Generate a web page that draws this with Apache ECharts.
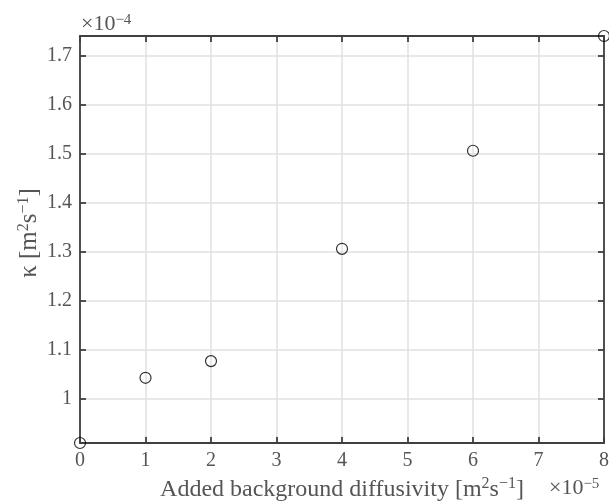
<!DOCTYPE html>
<html><head><meta charset="utf-8">
<script src="https://cdn.jsdelivr.net/npm/echarts@6/dist/echarts.min.js"></script>
<style>html,body{margin:0;padding:0;background:#fff}#c{width:609px;height:502px}</style>
</head><body><div id="c"></div>
<script>
// x in units of 1e-5, y in units of 1e-4
const xValues = [0, 1, 2, 4, 6, 8];
const yValues = [0.910, 1.043, 1.077, 1.306, 1.506, 1.740];
const xTicks = [0, 1, 2, 3, 4, 5, 6, 7, 8];
const yTicks = [1, 1.1, 1.2, 1.3, 1.4, 1.5, 1.6, 1.7];
const yMin = 0.910, yMax = 1.740;

const FONT = 'Liberation Serif';
const TXT = '#555555';
const AX = '#404040';
const FS = 20;

function richFor(size, supSize, raise) {
  return {
    n: {fontFamily: FONT, fontSize: size, color: TXT, fill: TXT, lineHeight: 2 * (raise + supSize / 2), verticalAlign: 'bottom'},
    s: {fontFamily: FONT, fontSize: supSize, color: TXT, fill: TXT, lineHeight: supSize, verticalAlign: 'top'}
  };
}
const nameRich = richFor(24, 16, 5);
const yNameRich = richFor(25, 16, 5);
const expRich = richFor(22, 15, 4);

const chart = echarts.init(document.getElementById('c'), null, {renderer: 'canvas'});
const axisCommon = {
  axisLine: {show: true, onZero: false, lineStyle: {color: AX, width: 1.8}},
  axisTick: {show: true, inside: true, length: 6, lineStyle: {color: AX, width: 1.8}},
};
chart.setOption({
  animation: false,
  grid: {left: 80, right: 5, top: 36, bottom: 59, containLabel: false, outerBoundsMode: 'none'},
  xAxis: [{
    type: 'value', min: 0, max: 8, interval: 1, position: 'bottom',
    ...axisCommon,
    axisLabel: {fontFamily: FONT, fontSize: FS, color: TXT, margin: 8,
      customValues: xTicks, formatter: v => String(v)},
    splitLine: {show: true, lineStyle: {color: '#e0e0e0', width: 1.5}},
    name: '{n|Added background diffusivity [m}{s|2}{n|s}{s|−1}{n|]}',
    nameLocation: 'middle', nameGap: 32,
    nameTextStyle: {rich: nameRich}
  }, {
    type: 'value', min: 0, max: 8, interval: 1, position: 'top',
    ...axisCommon,
    axisLabel: {show: false}, splitLine: {show: false}
  }],
  yAxis: [{
    type: 'value', min: yMin, max: yMax, position: 'left',
    ...axisCommon,
    axisTick: {...axisCommon.axisTick, customValues: yTicks},
    axisLabel: {fontFamily: FONT, fontSize: FS, color: TXT, margin: 8,
      customValues: yTicks, formatter: v => String(Math.round(v * 10) / 10)},
    splitLine: {show: true, lineStyle: {color: '#e0e0e0', width: 1.5}}
  }, {
    type: 'value', min: yMin, max: yMax, position: 'right',
    ...axisCommon,
    axisTick: {...axisCommon.axisTick, customValues: yTicks},
    axisLabel: {show: false, customValues: yTicks}, splitLine: {show: false}
  }],
  graphic: [
    {type: 'text', x: 29, y: 233, rotation: Math.PI / 2,
      style: {rich: yNameRich, text: '{n|κ [m}{s|2}{n|s}{s|−1}{n|]}', fill: TXT, align: 'center', verticalAlign: 'middle'}},
    {type: 'text', x: 81, y: 24,
      style: {rich: expRich, text: '{n|×10}{s|−4}', fill: TXT, align: 'left', verticalAlign: 'middle'}},
    {type: 'text', x: 549, y: 488,
      style: {rich: expRich, text: '{n|×10}{s|−5}', fill: TXT, align: 'left', verticalAlign: 'middle'}}
  ],
  series: [{
    type: 'scatter', xAxisIndex: 0, yAxisIndex: 0,
    data: xValues.map((x, i) => [x, yValues[i]]),
    symbol: 'circle', symbolSize: 11, clip: false,
    itemStyle: {color: 'rgba(0,0,0,0)', borderColor: '#000', borderWidth: 1.2}
  }]
});
</script></body></html>
